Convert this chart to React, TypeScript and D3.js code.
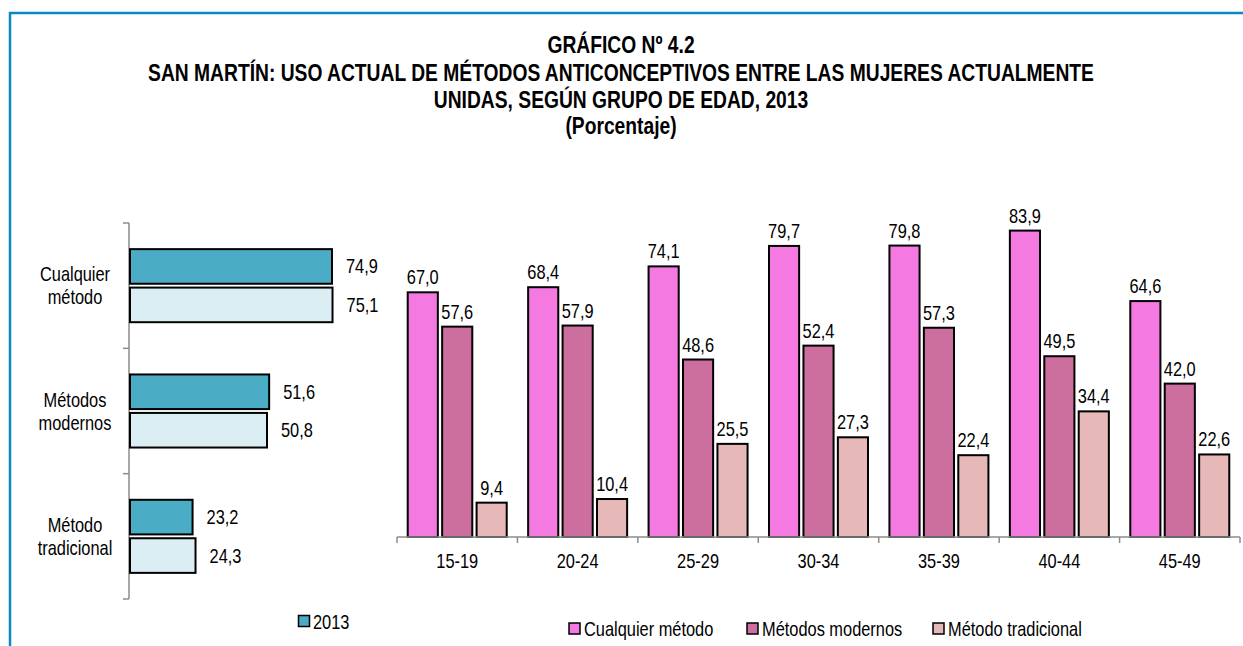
import React from "react";
import * as d3 from "d3";

const titleLines = [
  "GRÁFICO Nº 4.2",
  "SAN MARTÍN: USO ACTUAL DE MÉTODOS ANTICONCEPTIVOS ENTRE LAS MUJERES ACTUALMENTE",
  "UNIDAS, SEGÚN GRUPO DE EDAD, 2013",
  "(Porcentaje)",
];

// Left chart
const leftCategories = [["Cualquier", "método"], ["Métodos", "modernos"], ["Método", "tradicional"]];
const leftDark = [74.9, 51.6, 23.2];
const leftLight = [75.1, 50.8, 24.3];
const leftLegend = "2013";

// Right chart
const ageGroups = ["15-19", "20-24", "25-29", "30-34", "35-39", "40-44", "45-49"];
const seriesNames = ["Cualquier método", "Métodos modernos", "Método tradicional"];
const cualquier = [67.0, 68.4, 74.1, 79.7, 79.8, 83.9, 64.6];
const modernos = [57.6, 57.9, 48.6, 52.4, 57.3, 49.5, 42.0];
const tradicional = [9.4, 10.4, 25.5, 27.3, 22.4, 34.4, 22.6];

const FONT = "'Liberation Sans', Arial, sans-serif";
const SQ = 0.82; // horizontal condensing to mimic Arial Narrow
const seriesColors = ["#F47AE2", "#CC6E9E", "#E6B8B7"];
const fmt = (v: number) => v.toFixed(1).replace(".", ",");

function NText(props: {
  x: number;
  y: number;
  anchor?: "start" | "middle" | "end";
  size?: number;
  bold?: boolean;
  children: React.ReactNode;
}) {
  const { x, y, anchor = "start", size = 20, bold = false, children } = props;
  return (
    <g transform={`translate(${x},${y}) scale(${SQ},1)`}>
      <text x={0} y={0} textAnchor={anchor} fontSize={size} fontWeight={bold ? "bold" : "normal"} fill="#000">
        {children}
      </text>
    </g>
  );
}

export default function App() {
  // Left scales
  const lx = d3.scaleLinear().domain([0, 90]).range([130, 372.7]);
  const ly = d3.scaleBand<number>().domain([0, 1, 2]).range([223, 599]).paddingInner(0.417).paddingOuter(0.2085);
  const lInner = d3.scaleBand<number>().domain([0, 1]).range([0, ly.bandwidth()]).paddingInner(0.1);
  const leftSeries = [
    { vals: leftDark, color: "#4BACC6" },
    { vals: leftLight, color: "#DBEEF3" },
  ];

  // Right scales
  const rx = d3.scaleBand<string>().domain(ageGroups).range([397, 1240]).paddingInner(0.178).paddingOuter(0.089);
  const rInner = d3.scaleBand<number>().domain([0, 1, 2]).range([0, rx.bandwidth()]).paddingInner(0.125);
  const ry = d3.scaleLinear().domain([0, 90]).range([537, 537 - 90 * 3.652]);
  const rightSeries = [cualquier, modernos, tradicional];

  const tickYs = [0, 1, 2, 3].map((i) => 223 + (i * (599 - 223)) / 3);
  const tickXs = d3.range(ageGroups.length + 1).map((i) => 397 + i * rx.step());

  return (
    <svg width={1243} height={646} style={{ position: "absolute", left: 0, top: 0, background: "#fff" }} fontFamily={FONT}>
      <rect x={0} y={0} width={1243} height={646} fill="#fff" />
      <path d="M10,646 L10,13 L1243,13" fill="none" stroke="#0A88C4" strokeWidth={2.5} />

      {titleLines.map((t, i) => (
        <NText key={i} x={621} y={[53, 81, 108, 134][i]} anchor="middle" size={23.5} bold>
          {t}
        </NText>
      ))}

      {/* Left axis */}
      <line x1={129} x2={129} y1={223} y2={599} stroke="#8C8C8C" strokeWidth={1.5} />
      {tickYs.map((y, i) => (
        <line key={i} x1={123} x2={129} y1={y} y2={y} stroke="#8C8C8C" strokeWidth={1.5} />
      ))}
      {leftCategories.map((lines, ci) => {
        const cy = (ly(ci) as number) + ly.bandwidth() / 2;
        return (
          <g key={ci}>
            {lines.map((l, li) => (
              <NText key={li} x={75} y={cy - 4.5 + li * 23} anchor="middle">
                {l}
              </NText>
            ))}
          </g>
        );
      })}
      {leftSeries.map((s, si) =>
        s.vals.map((v, ci) => {
          const y = (ly(ci) as number) + (lInner(si) as number);
          const h = lInner.bandwidth();
          return (
            <g key={`${si}-${ci}`}>
              <rect x={lx(0)} y={y} width={lx(v) - lx(0)} height={h} fill={s.color} stroke="#000" strokeWidth={2} />
              <NText x={lx(v) + 14} y={y + h / 2 + 7}>
                {fmt(v)}
              </NText>
            </g>
          );
        })
      )}
      <rect x={298.5} y={615.5} width={11} height={11} fill="#4BACC6" stroke="#000" strokeWidth={1.5} />
      <NText x={313} y={628.5}>
        {leftLegend}
      </NText>

      {/* Right chart */}
      {rightSeries.map((vals, si) =>
        vals.map((v, ci) => {
          const x = (rx(ageGroups[ci]) as number) + (rInner(si) as number);
          const w = rInner.bandwidth();
          return (
            <g key={`r${si}-${ci}`}>
              <rect x={x} y={ry(v)} width={w} height={ry(0) - ry(v)} fill={seriesColors[si]} stroke="#000" strokeWidth={2} />
              <NText x={x + w / 2} y={ry(v) - 8} anchor="middle">
                {fmt(v)}
              </NText>
            </g>
          );
        })
      )}
      <line x1={397} x2={1240} y1={537} y2={537} stroke="#8C8C8C" strokeWidth={1.5} />
      {tickXs.map((x, i) => (
        <line key={i} x1={x} x2={x} y1={537} y2={543} stroke="#8C8C8C" strokeWidth={1.5} />
      ))}
      {ageGroups.map((g) => (
        <NText key={g} x={(rx(g) as number) + rx.bandwidth() / 2} y={568} anchor="middle">
          {g}
        </NText>
      ))}
      {seriesNames.map((n, i) => {
        const sx = [569, 747, 933][i];
        return (
          <g key={n}>
            <rect x={sx} y={623} width={11} height={11} fill={seriesColors[i]} stroke="#000" strokeWidth={1.5} />
            <NText x={sx + 15} y={635.5}>
              {n}
            </NText>
          </g>
        );
      })}
    </svg>
  );
}
